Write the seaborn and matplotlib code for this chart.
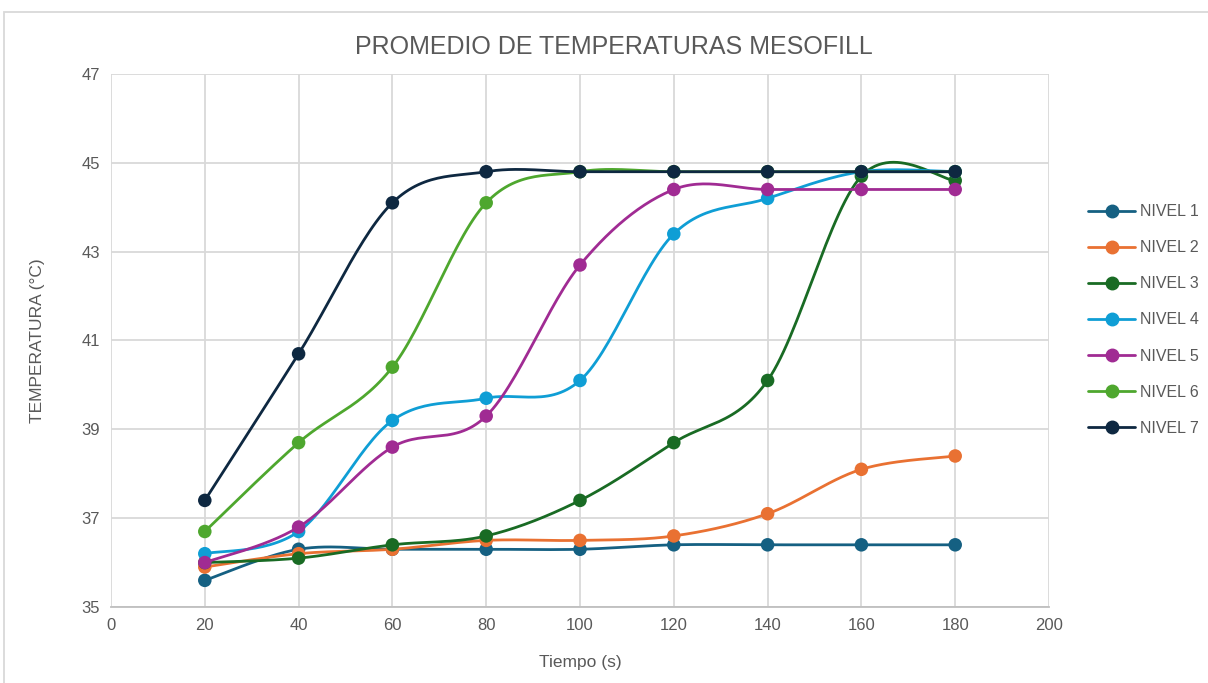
import numpy as np
import pandas as pd
import seaborn as sns
from matplotlib import pyplot as plt
from matplotlib.lines import Line2D
from matplotlib.patches import Rectangle

# data
tiempo = [20, 40, 60, 80, 100, 120, 140, 160, 180]
nivel_1 = [35.6, 36.3, 36.3, 36.3, 36.3, 36.4, 36.4, 36.4, 36.4]
nivel_2 = [35.9, 36.2, 36.3, 36.5, 36.5, 36.6, 37.1, 38.1, 38.4]
nivel_3 = [36.0, 36.1, 36.4, 36.6, 37.4, 38.7, 40.1, 44.7, 44.6]
nivel_4 = [36.2, 36.7, 39.2, 39.7, 40.1, 43.4, 44.2, 44.8, 44.8]
nivel_5 = [36.0, 36.8, 38.6, 39.3, 42.7, 44.4, 44.4, 44.4, 44.4]
nivel_6 = [36.7, 38.7, 40.4, 44.1, 44.8, 44.8, 44.8, 44.8, 44.8]
nivel_7 = [37.4, 40.7, 44.1, 44.8, 44.8, 44.8, 44.8, 44.8, 44.8]

series_names = ["NIVEL 1", "NIVEL 2", "NIVEL 3", "NIVEL 4", "NIVEL 5", "NIVEL 6", "NIVEL 7"]
series_vals = [nivel_1, nivel_2, nivel_3, nivel_4, nivel_5, nivel_6, nivel_7]
colores = ["#156082", "#E97132", "#196B24", "#0F9ED5", "#A02B93", "#4EA72E", "#0E2841"]

df = pd.DataFrame({"Tiempo": tiempo})
for name, vals in zip(series_names, series_vals):
    df[name] = vals
long_df = df.melt(id_vars="Tiempo", var_name="Nivel", value_name="Temp")


def smooth(x, y, n=30):
    # excel-style smoothed line (cubic bezier through the points)
    x = np.asarray(x, float)
    y = np.asarray(y, float)
    px = np.concatenate([[x[0]], x, [x[-1]]])
    py = np.concatenate([[y[0]], y, [y[-1]]])
    t = np.linspace(0, 1, n)
    out_x, out_y = [], []
    for i in range(1, len(px) - 2):
        p0x, p0y = px[i], py[i]
        p3x, p3y = px[i + 1], py[i + 1]
        c1x = p0x + (px[i + 1] - px[i - 1]) / 6
        c1y = p0y + (py[i + 1] - py[i - 1]) / 6
        c2x = p3x - (px[i + 2] - px[i]) / 6
        c2y = p3y - (py[i + 2] - py[i]) / 6
        bx = (1 - t) ** 3 * p0x + 3 * (1 - t) ** 2 * t * c1x + 3 * (1 - t) * t ** 2 * c2x + t ** 3 * p3x
        by = (1 - t) ** 3 * p0y + 3 * (1 - t) ** 2 * t * c1y + 3 * (1 - t) * t ** 2 * c2y + t ** 3 * p3y
        out_x.extend(bx)
        out_y.extend(by)
    return np.array(out_x), np.array(out_y)


sns.set_theme(style="whitegrid")
plt.rcParams['font.family'] = ['Liberation Sans', 'DejaVu Sans']
gris = "#595959"

fig = plt.figure(figsize=(12.08, 6.83), dpi=100)
ax = fig.add_axes([111 / 1208, 1 - 607 / 683, (1049 - 111) / 1208, (607 - 74) / 683])

for i, name in enumerate(series_names):
    sub = long_df[long_df["Nivel"] == name]
    sx, sy = smooth(sub["Tiempo"], sub["Temp"])
    ax.plot(sx, sy, color=colores[i], lw=2.0, zorder=3 + i, solid_capstyle="round")
    sns.scatterplot(x=sub["Tiempo"], y=sub["Temp"], color=colores[i], s=95,
                    edgecolor="none", ax=ax, zorder=3 + i, legend=False)

ax.set_xlim(0, 200)
ax.set_ylim(35, 47)
ax.set_xticks(range(0, 201, 20))
ax.set_yticks(range(35, 48, 2))
ax.grid(True, color="#d9d9d9", lw=1.3)
for s in ["top", "right", "left"]:
    ax.spines[s].set_visible(False)
ax.spines["bottom"].set_color("#bfbfbf")
ax.spines["bottom"].set_linewidth(1.3)
ax.tick_params(axis="both", length=0, labelsize=12, colors=gris, pad=8)
ax.set_xlabel("Tiempo (s)", fontsize=12.5, color=gris, labelpad=16)
ax.set_ylabel("TEMPERATURA (°C)", fontsize=12.5, color=gris, labelpad=26)
ax.set_facecolor("white")

fig.text(614 / 1208, 1 - 47 / 683, "PROMEDIO DE TEMPERATURAS MESOFILL", fontsize=18,
         color=gris, ha="center", va="center")

handles = [Line2D([0], [0], color=c, lw=2.0, marker="o", markersize=9) for c in colores]
fig.legend(handles, series_names, loc="center left", bbox_to_anchor=(1074 / 1208, 1 - 320 / 683),
           frameon=False, fontsize=11.5, labelcolor=gris, handlelength=2.9,
           handletextpad=0.35, labelspacing=1.32)

# chart frame
fig.patches.append(Rectangle((4 / 1208, -0.01), 1.0, 1 - 12 / 683 + 0.01, transform=fig.transFigure,
                             fill=False, edgecolor="#d9d9d9", lw=1.3))

fig.savefig("out.png", dpi=100)
